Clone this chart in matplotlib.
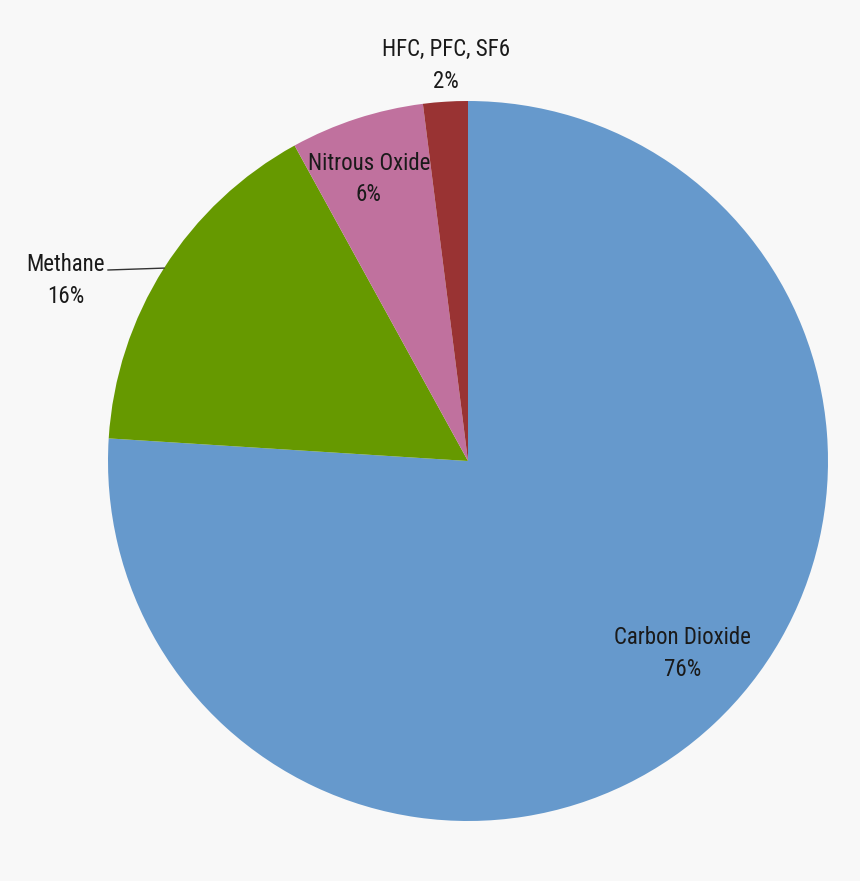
import numpy as np
import matplotlib
matplotlib.use("Agg")
import matplotlib.pyplot as plt

categories = ["Carbon Dioxide", "Methane", "Nitrous Oxide", "HFC, PFC, SF6"]
values = [76, 16, 6, 2]
colors = ["#6699CC", "#669900", "#C0719E", "#993333"]

plt.rcParams['font.family'] = ['Roboto Condensed', 'DejaVu Sans']

W, H = 860, 881
fig = plt.figure(figsize=(W / 100, H / 100), dpi=100, facecolor="#F8F8F8")
ax = fig.add_axes([0, 0, 1, 1])
ax.set_facecolor("#F8F8F8")

cx, cy, R = 468, H - 461, 360
wedges, _ = ax.pie(values, colors=colors, startangle=90, counterclock=False,
                   center=(cx, cy), radius=R, frame=True,
                   wedgeprops=dict(linewidth=0))
ax.set_xlim(0, W)
ax.set_ylim(0, H)
ax.set_aspect("equal")
ax.axis("off")

# label radial fractions and angle tweaks
label_r = [0.80, 1.225, 0.83, 1.10]
label_da = [4.9, 8.2, 1.4, -0.4]
fs = 16.5
for w, cat, v, rf, da in zip(wedges, categories, values, label_r, label_da):
    mid = np.deg2rad((w.theta1 + w.theta2) / 2 + da)
    x = cx + rf * R * np.cos(mid)
    y = cy + rf * R * np.sin(mid)
    ax.text(x, y, f"{cat}\n{v}%", ha="center", va="center", fontsize=fs,
            color="#1a1a1a", linespacing=1.48, fontweight="normal")

# leader line for Methane
w = wedges[1]
mid = np.deg2rad((w.theta1 + w.theta2) / 2)
x0 = cx + R * np.cos(mid)
y0 = cy + R * np.sin(mid)
ax.plot([x0, 108], [y0, H - 270], color="#333333", lw=1)

fig.savefig("out.png", dpi=100, facecolor=fig.get_facecolor())
